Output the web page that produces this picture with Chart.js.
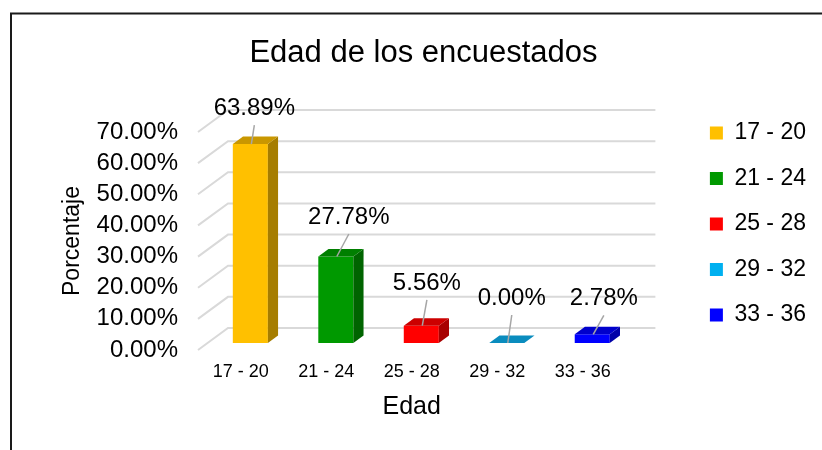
<!DOCTYPE html>
<html lang="es">
<head>
<meta charset="UTF-8">
<title>Edad de los encuestados</title>
<script src="https://cdn.jsdelivr.net/npm/chart.js@4.4.1/dist/chart.umd.min.js"></script>
<style>
  body { margin: 0; background: #fff; }
  .chart-box { width: 822px; height: 450px; }
</style>
</head>
<body>
<div class="chart-box"><canvas id="edadChart"></canvas></div>
<script>
// datos
const categorias = ['17 - 20', '21 - 24', '25 - 28', '29 - 32', '33 - 36'];
const porcentajes = [63.89, 27.78, 5.56, 0.00, 2.78];
const ticksY = [0, 10, 20, 30, 40, 50, 60, 70];

// colores: cara frontal, lateral y superior
const colores     = ['#FFC000', '#009900', '#FF0000', '#00B0F0', '#0000FF'];
const coloresLado = ['#A67D00', '#006400', '#A80000', '#00729C', '#0000A8'];
const coloresTapa = ['#C99700', '#007F00', '#CC0000', '#0A8CBE', '#0000CC'];

// desplazamientos de la perspectiva
const FONDO  = { dx: 30,   dy: -22 };   // pared del fondo
const FRENTE = { dx: 9.6,  dy: -7 };    // cara frontal de las barras
const GROSOR = { dx: 10.2, dy: -7.5 };  // profundidad de cada barra
const posEtiquetas = [[4, -36], [13, -39.5], [5.6, -42.7], [5, -45], [11.6, -36]];

const fuente = '"Liberation Sans", Arial, sans-serif';
Chart.defaults.font.family = fuente;
Chart.defaults.color = '#000';

function poligono(ctx, pts, color) {
    ctx.beginPath();
    ctx.moveTo(pts[0][0], pts[0][1]);
    pts.slice(1).forEach(p => ctx.lineTo(p[0], p[1]));
    ctx.closePath();
    ctx.fillStyle = color;
    ctx.fill();
}

const efecto3D = {
    id: 'efecto3D',
    beforeDraw(chart) {
        // marco del grafico
        const ctx = chart.ctx;
        ctx.save();
        ctx.strokeStyle = '#1a1a1a';
        ctx.lineWidth = 2;
        ctx.beginPath();
        ctx.moveTo(11, chart.height);
        ctx.lineTo(11, 13.5);
        ctx.lineTo(chart.width, 13.5);
        ctx.stroke();
        ctx.restore();
    },
    beforeDatasetsDraw(chart) {
        // lineas de la pared lateral y del fondo
        const { ctx, chartArea, scales: { y } } = chart;
        ctx.save();
        ctx.strokeStyle = '#D9D9D9';
        ctx.lineWidth = 2;
        ticksY.forEach(v => {
            const py = y.getPixelForValue(v);
            ctx.beginPath();
            ctx.moveTo(chartArea.left, py);
            ctx.lineTo(chartArea.left + FONDO.dx, py + FONDO.dy);
            ctx.lineTo(chartArea.right + FONDO.dx, py + FONDO.dy);
            ctx.stroke();
        });
        ctx.restore();
    },
    beforeDatasetDraw(chart) {
        chart.ctx.save();
        chart.ctx.translate(FRENTE.dx, FRENTE.dy);
    },
    afterDatasetDraw(chart, args) {
        const ctx = chart.ctx;
        args.meta.data.forEach((bar, i) => {
            const { x, y, base, width } = bar.getProps(['x', 'y', 'base', 'width'], true);
            const l = x - width / 2, r = x + width / 2;
            poligono(ctx, [[r, y], [r + GROSOR.dx, y + GROSOR.dy], [r + GROSOR.dx, base + GROSOR.dy], [r, base]], coloresLado[i]);
            poligono(ctx, [[l, y], [l + GROSOR.dx, y + GROSOR.dy], [r + GROSOR.dx, y + GROSOR.dy], [r, y]], coloresTapa[i]);
        });
        ctx.restore();
    },
    afterDatasetsDraw(chart) {
        // etiquetas de datos con linea guia
        const ctx = chart.ctx;
        const meta = chart.getDatasetMeta(0);
        ctx.save();
        ctx.font = '24px ' + fuente;
        ctx.textAlign = 'center';
        ctx.textBaseline = 'middle';
        meta.data.forEach((bar, i) => {
            const { x, y } = bar.getProps(['x', 'y'], true);
            const cx = x + FRENTE.dx, ty = y + FRENTE.dy;
            const lx = cx + posEtiquetas[i][0], ly = ty + posEtiquetas[i][1];
            ctx.strokeStyle = '#A6A6A6';
            ctx.lineWidth = 1.5;
            ctx.beginPath();
            ctx.moveTo(lx, ly + 17);
            ctx.lineTo(cx + 1, ty);
            ctx.stroke();
            ctx.fillStyle = '#000';
            ctx.fillText(porcentajes[i].toFixed(2) + '%', lx, ly);
        });
        ctx.restore();
    }
};

new Chart(document.getElementById('edadChart'), {
    type: 'bar',
    data: {
        labels: categorias,
        datasets: [{
            label: 'Edad',
            data: porcentajes,
            backgroundColor: colores,
            borderWidth: 0,
            categoryPercentage: 1,
            barPercentage: 0.41
        }]
    },
    options: {
        responsive: true,
        maintainAspectRatio: false,
        animation: false,
        layout: { padding: { left: 31, right: 6, top: 0, bottom: 2 } },
        plugins: {
            tooltip: { enabled: false },
            title: {
                display: true,
                text: 'Edad de los encuestados',
                font: { size: 31, weight: 'normal' },
                color: '#000',
                padding: { top: 35, bottom: 59.8 }
            },
            legend: {
                position: 'right',
                onClick: null,
                labels: {
                    boxWidth: 13,
                    boxHeight: 13,
                    padding: 22.5,
                    font: { size: 23 },
                    color: '#000',
                    generateLabels: () => categorias.map((c, i) => ({
                        text: c, fillStyle: colores[i], strokeStyle: colores[i],
                        lineWidth: 0, hidden: false, index: i
                    }))
                }
            }
        },
        scales: {
            x: {
                grid: { display: false, drawTicks: false },
                border: { display: false },
                ticks: { font: { size: 18 }, padding: 11, color: '#000' },
                title: { display: true, text: 'Edad', font: { size: 25 }, color: '#000', padding: { top: 0, bottom: 26 } },
                afterFit: s => { s.height = 98; }
            },
            y: {
                min: 0,
                max: 70,
                grid: { display: false, drawTicks: false },
                border: { display: false },
                afterBuildTicks: s => { s.ticks = ticksY.map(v => ({ value: v })); },
                ticks: {
                    font: { size: 24 },
                    padding: 20,
                    color: '#000',
                    autoSkip: false,
                    callback: v => v.toFixed(2) + '%'
                },
                title: { display: true, text: 'Porcentaje', font: { size: 23 }, color: '#000', padding: { top: 28.2, bottom: 0 } },
                afterFit: s => { s.width = 167; }
            },
            hueco: {
                type: 'linear',
                position: 'right',
                min: 0,
                max: 1,
                grid: { display: false, drawTicks: false },
                border: { display: false },
                ticks: { display: false },
                afterFit: s => { s.width = 62; }
            }
        }
    },
    plugins: [efecto3D]
});
</script>
</body>
</html>
